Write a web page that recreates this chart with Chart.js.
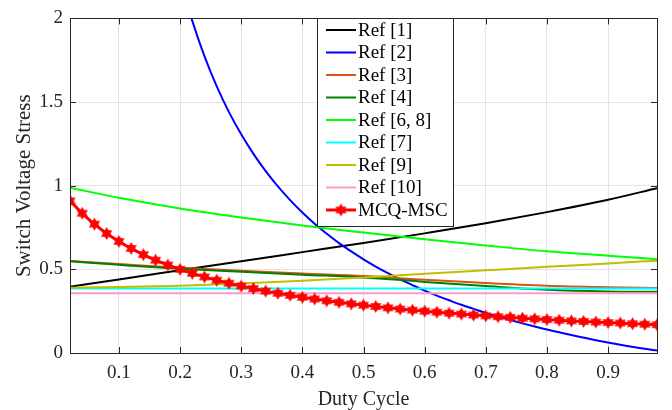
<!DOCTYPE html>
<html>
<head>
<meta charset="utf-8">
<script src="https://cdn.jsdelivr.net/npm/chart.js@4.4.1/dist/chart.umd.min.js"></script>
<style>
  body { margin: 0; background: #fff; }
  #wrap { width: 672px; height: 410px; }
</style>
</head>
<body>
<div id="wrap"><canvas id="stress-chart"></canvas></div>
<script>
// x positions for the smooth reference curves
const dutyCoarse = [0.02, 0.1, 0.2, 0.3, 0.4, 0.5, 0.6, 0.7, 0.8, 0.9, 0.98];

const ref1 = [0.396, 0.440, 0.494, 0.548, 0.603, 0.658, 0.715, 0.775, 0.842, 0.916, 0.985];
const ref3 = [0.550, 0.532, 0.509, 0.492, 0.475, 0.460, 0.438, 0.418, 0.402, 0.393, 0.388];
const ref4 = [0.548, 0.527, 0.503, 0.485, 0.468, 0.452, 0.425, 0.400, 0.378, 0.368, 0.366];
const ref68 = [0.988, 0.928, 0.864, 0.810, 0.762, 0.720, 0.680, 0.643, 0.608, 0.582, 0.560];
const ref7 = [0.385, 0.385, 0.385, 0.385, 0.385, 0.385, 0.385, 0.385, 0.385, 0.385, 0.385];
const ref9 = [0.390, 0.394, 0.402, 0.415, 0.432, 0.452, 0.473, 0.494, 0.515, 0.535, 0.552];
const ref10 = [0.357, 0.357, 0.357, 0.357, 0.357, 0.357, 0.357, 0.357, 0.357, 0.357, 0.357];

// Ref [2] only enters the plot above D = 0.2
const dutyRef2 = [0.2, 0.22, 0.24, 0.26, 0.28, 0.3, 0.32, 0.34, 0.36, 0.38, 0.4, 0.42, 0.44, 0.46, 0.48,
                  0.5, 0.52, 0.54, 0.56, 0.58, 0.6, 0.62, 0.64, 0.66, 0.68, 0.7, 0.72, 0.74, 0.76, 0.78,
                  0.8, 0.84, 0.88, 0.92, 0.96, 0.98];
const ref2 = [2.24, 1.985, 1.773, 1.594, 1.44, 1.307, 1.19, 1.087, 0.996, 0.914, 0.84, 0.773, 0.713, 0.657, 0.607,
              0.56, 0.517, 0.477, 0.44, 0.406, 0.373, 0.343, 0.315, 0.288, 0.264, 0.24, 0.218, 0.197, 0.177, 0.158,
              0.14, 0.107, 0.076, 0.049, 0.025, 0.015];

// proposed converter, one marker every 0.02
const duty = [0.02, 0.04, 0.06, 0.08, 0.1, 0.12, 0.14, 0.16, 0.18, 0.2, 0.22, 0.24, 0.26, 0.28, 0.3,
              0.32, 0.34, 0.36, 0.38, 0.4, 0.42, 0.44, 0.46, 0.48, 0.5, 0.52, 0.54, 0.56, 0.58, 0.6,
              0.62, 0.64, 0.66, 0.68, 0.7, 0.72, 0.74, 0.76, 0.78, 0.8, 0.82, 0.84, 0.86, 0.88, 0.9,
              0.92, 0.94, 0.96, 0.98];
const mcq = [0.910, 0.835, 0.770, 0.714, 0.667, 0.625, 0.588, 0.555, 0.526, 0.500, 0.476, 0.455, 0.435, 0.417, 0.400,
             0.385, 0.370, 0.357, 0.345, 0.333, 0.323, 0.312, 0.303, 0.294, 0.286, 0.278, 0.270, 0.263, 0.256, 0.250,
             0.244, 0.238, 0.233, 0.227, 0.222, 0.217, 0.213, 0.208, 0.204, 0.200, 0.196, 0.192, 0.189, 0.185, 0.182,
             0.179, 0.175, 0.172, 0.169];

const xTicks = [0.1, 0.2, 0.3, 0.4, 0.5, 0.6, 0.7, 0.8, 0.9];
const xTickLabels = ['0.1', '0.2', '0.3', '0.4', '0.5', '0.6', '0.7', '0.8', '0.9'];
const yTicks = [0, 0.5, 1, 1.5, 2];
const yTickLabels = ['0', '0.5', '1', '1.5', '2'];

const FONT = 'Liberation Serif';
const AXIS = '#262626';

function pts(xs, ys) {
    return xs.map((x, i) => ({ x: x, y: ys[i] }));
}

// filled six-point star used as the MCQ-MSC marker
function hexagram(r, color) {
    const c = document.createElement('canvas');
    const s = Math.ceil(r * 2 + 2);
    c.width = s;
    c.height = s;
    const g = c.getContext('2d');
    g.fillStyle = color;
    [-Math.PI / 2, Math.PI / 2].forEach(rot => {
        g.beginPath();
        for (let k = 0; k < 3; k++) {
            const t = rot + k * 2 * Math.PI / 3;
            const px = s / 2 + r * Math.cos(t);
            const py = s / 2 + r * Math.sin(t);
            if (k === 0) g.moveTo(px, py); else g.lineTo(px, py);
        }
        g.closePath();
        g.fill();
    });
    return c;
}
const starMarker = hexagram(6.5, '#ff0000');

function refLine(label, xs, ys, color) {
    return {
        label: label,
        data: pts(xs, ys),
        borderColor: color,
        backgroundColor: color,
        borderWidth: 2,
        pointRadius: 0,
        cubicInterpolationMode: 'monotone'
    };
}

const datasets = [
    refLine('Ref [1]', dutyCoarse, ref1, '#000000'),
    refLine('Ref [2]', dutyRef2, ref2, '#0000ff'),
    refLine('Ref [3]', dutyCoarse, ref3, '#d95319'),
    refLine('Ref [4]', dutyCoarse, ref4, '#008000'),
    refLine('Ref [6, 8]', dutyCoarse, ref68, '#00ff00'),
    refLine('Ref [7]', dutyCoarse, ref7, '#00ffff'),
    refLine('Ref [9]', dutyCoarse, ref9, '#bfbf00'),
    refLine('Ref [10]', dutyCoarse, ref10, '#ff99cc'),
    {
        label: 'MCQ-MSC',
        data: pts(duty, mcq),
        borderColor: '#ff0000',
        backgroundColor: '#ff0000',
        borderWidth: 3,
        pointStyle: starMarker,
        pointRadius: 6,
        cubicInterpolationMode: 'monotone'
    }
];
// later curves sit on top, like the plotting order
datasets.forEach((d, i) => { d.order = datasets.length - i; });

// box around the axes with inward tick marks on all four sides
const frame = {
    id: 'frame',
    afterDatasetsDraw(chart) {
        const { ctx, chartArea: a, scales: { x, y } } = chart;
        ctx.save();
        ctx.strokeStyle = AXIS;
        ctx.lineWidth = 1;
        ctx.strokeRect(Math.round(a.left) + 0.5, Math.round(a.top) + 0.5,
                       Math.round(a.right) - Math.round(a.left), Math.round(a.bottom) - Math.round(a.top));
        ctx.beginPath();
        xTicks.forEach(v => {
            const px = Math.round(x.getPixelForValue(v)) + 0.5;
            ctx.moveTo(px, a.bottom); ctx.lineTo(px, a.bottom - 6);
            ctx.moveTo(px, a.top); ctx.lineTo(px, a.top + 6);
        });
        yTicks.forEach(v => {
            const py = Math.round(y.getPixelForValue(v)) + 0.5;
            ctx.moveTo(a.left, py); ctx.lineTo(a.left + 6, py);
            ctx.moveTo(a.right, py); ctx.lineTo(a.right - 6, py);
        });
        ctx.stroke();
        ctx.restore();
    }
};

// boxed legend inside the plot, next to the top border
const boxLegend = {
    id: 'boxLegend',
    afterDraw(chart) {
        const ctx = chart.ctx;
        const left = 317.5, top = Math.round(chart.chartArea.top) + 0.5;
        const w = 136, h = 208;
        ctx.save();
        ctx.fillStyle = '#ffffff';
        ctx.fillRect(left, top, w, h);
        ctx.strokeStyle = AXIS;
        ctx.lineWidth = 1;
        ctx.strokeRect(left, top, w, h);
        ctx.font = '19px "' + FONT + '"';
        ctx.textBaseline = 'middle';
        chart.data.datasets.forEach((d, i) => {
            const cy = 30 + i * 22.5;
            ctx.strokeStyle = d.borderColor;
            ctx.lineWidth = d.borderWidth;
            ctx.beginPath();
            ctx.moveTo(326, cy);
            ctx.lineTo(356, cy);
            ctx.stroke();
            if (d.pointStyle instanceof HTMLCanvasElement) {
                const m = d.pointStyle;
                ctx.drawImage(m, 341 - m.width / 2, cy - m.height / 2);
            }
            ctx.fillStyle = '#000000';
            ctx.fillText(d.label, 358, cy + 1);
        });
        ctx.restore();
    }
};

const ctx = document.getElementById('stress-chart').getContext('2d');
new Chart(ctx, {
    type: 'line',
    data: { datasets: datasets },
    options: {
        responsive: true,
        maintainAspectRatio: false,
        animation: false,
        layout: { padding: { top: 14, right: 15, left: 0, bottom: 0 } },
        plugins: {
            legend: { display: false },
            tooltip: { enabled: false }
        },
        scales: {
            x: {
                type: 'linear',
                min: 0.02,
                max: 0.98,
                afterBuildTicks(scale) {
                    scale.ticks = xTicks.map(v => ({ value: v }));
                },
                afterFit(scale) { scale.height = 57; },
                ticks: {
                    padding: 9,
                    color: AXIS,
                    font: { family: FONT, size: 19 },
                    callback: (v, i) => xTickLabels[i]
                },
                grid: { color: '#e3e3e3', drawTicks: false },
                border: { display: false },
                title: {
                    display: true,
                    text: 'Duty Cycle',
                    color: AXIS,
                    font: { family: FONT, size: 20, lineHeight: 1 },
                    padding: { top: 0, bottom: 0 }
                }
            },
            y: {
                min: 0,
                max: 2,
                afterBuildTicks(scale) {
                    scale.ticks = yTicks.map(v => ({ value: v }));
                },
                afterFit(scale) { scale.width = 70; },
                ticks: {
                    padding: 7,
                    color: AXIS,
                    font: { family: FONT, size: 19 },
                    callback: (v, i) => yTickLabels[i]
                },
                grid: { color: '#e3e3e3', drawTicks: false },
                border: { display: false },
                title: {
                    display: true,
                    text: 'Switch Voltage Stress',
                    color: AXIS,
                    font: { family: FONT, size: 21, lineHeight: 1 },
                    padding: { top: 14, bottom: 0 }
                }
            }
        }
    },
    plugins: [frame, boxLegend]
});
</script>
</body>
</html>
